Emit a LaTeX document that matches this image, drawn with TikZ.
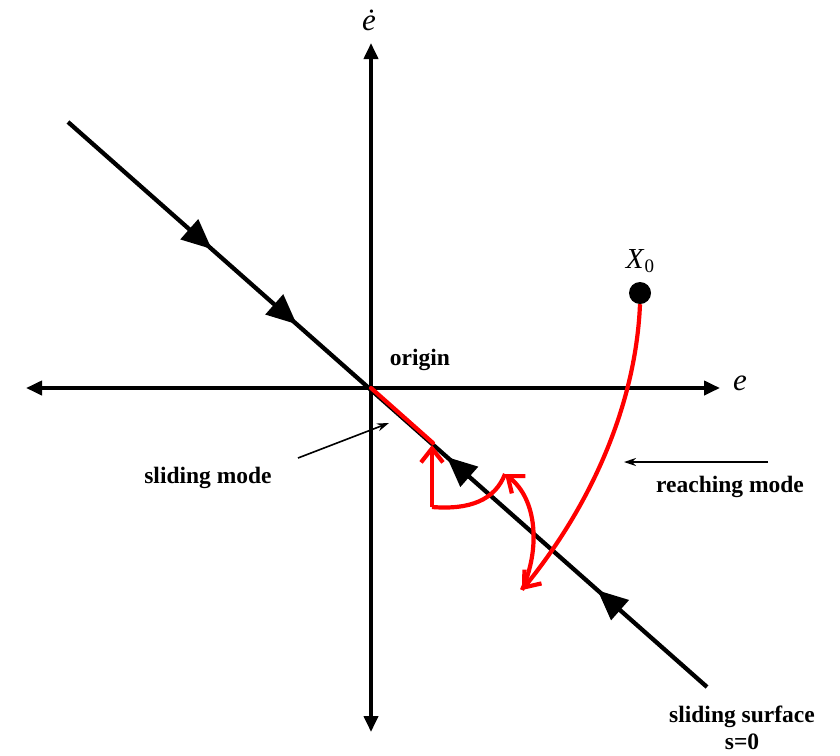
\documentclass[tikz,border=0pt]{standalone}
\usepackage{fontspec}
\setmainfont{Liberation Serif}
\usetikzlibrary{arrows.meta,decorations.markings}
\begin{document}
\begin{tikzpicture}[x=1pt,y=-1pt,
  axis/.style={line width=3.8pt,{Triangle[length=16pt,width=14pt]}-{Triangle[length=16pt,width=14pt]}},
  lbl/.style={font=\bfseries\fontsize{23.5}{25}\selectfont,inner sep=0pt},
  redl/.style={red,line width=4.2pt},
  rtip/.style={-{Straight Barb[length=14pt,width=22pt,line width=4.2pt]}},
  thin arrow/.style={line width=1.6pt,-{Stealth[length=12pt,width=8pt]}}
]
\useasboundingbox (0,0) rectangle (840,755);
% coordinates
\coordinate (O) at (371,388);
\coordinate (top) at (371,43);
\coordinate (bot) at (371,732);
\coordinate (left) at (26,388);
\coordinate (right) at (720,388);
\coordinate (s1) at (68,122);
\coordinate (s2) at (707,687);
\coordinate (r1) at (433,443);
% axes
\draw[axis] (left) -- (right);
\draw[axis] (bot) -- (top);
% sliding surface
\draw[line width=4.3pt,postaction={decorate},
  decoration={markings,
    mark=at position 0.225 with {\arrow{Triangle[length=30pt,width=26pt]}},
    mark=at position 0.358 with {\arrow{Triangle[length=30pt,width=26pt]}},
    mark=at position 0.593 with {\arrowreversed{Triangle[length=30pt,width=26pt]}},
    mark=at position 0.829 with {\arrowreversed{Triangle[length=30pt,width=26pt]}}}]
  (s1) -- (s2);
% red sliding segment
\draw[redl,line cap=round] (O) -- (r1);
% reaching trajectory
\node[circle,fill=black,minimum size=22pt,inner sep=0pt] (x0) at (640,293) {};
\coordinate (hit) at (522,590);
\coordinate (bt) at (505,474);
\coordinate (vb) at (432,507);
\coordinate (vt) at (432,445);
\draw[redl,rtip] (x0.south) .. controls (636,400) and (595,500) .. (hit);
\draw[redl,rtip] (hit) .. controls (540,550) and (538,500) .. (bt);
\draw[redl] (bt) .. controls (495,500) and (470,510) .. (vb);
\draw[redl,rtip] (vb) -- (vt);
% labels
\node[font=\itshape\fontsize{31}{31}\selectfont,inner sep=0pt] (ed) at (369,20) {\.e};
\node[font=\itshape\fontsize{31}{31}\selectfont,inner sep=0pt] (el) at (740,383) {e};
\node[font=\fontsize{29}{29}\selectfont,inner sep=0pt] (x0l) at (640,261) {\textit{X}\raisebox{-4pt}{\fontsize{19}{19}\selectfont 0}};
\node[lbl] (orig) at (420,360) {origin};
\node[lbl] (sm) at (208,478) {sliding mode};
\node[lbl] (rm) at (730,487) {reaching mode};
\node[lbl] (ss) at (742,717) {sliding surface};
\node[lbl,anchor=south] (s0) at (742,750) {s=0};
\coordinate (smA) at (298,458);
\coordinate (smB) at (389,423);
\draw[thin arrow] (smA) -- (smB);
\coordinate (rmA) at (768,462);
\coordinate (rmB) at (624,462);
\draw[thin arrow] (rmA) -- (rmB);
\end{tikzpicture}
\end{document}
